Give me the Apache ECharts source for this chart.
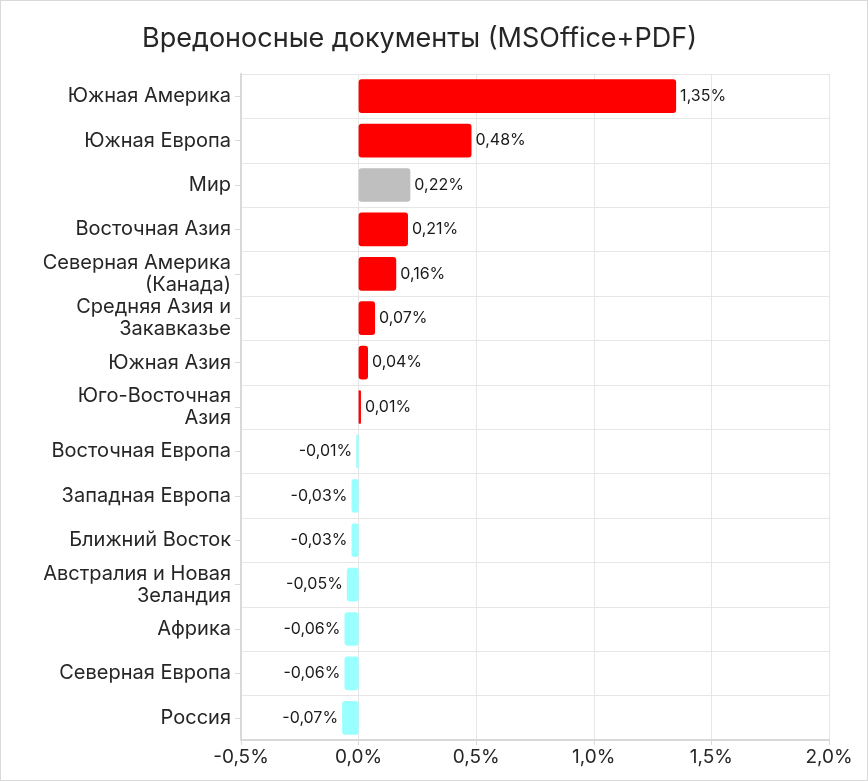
<!DOCTYPE html>
<html>
<head>
<meta charset="utf-8">
<script src="https://cdn.jsdelivr.net/npm/echarts@6/dist/echarts.min.js"></script>
<style>
  html, body { margin: 0; padding: 0; background: #fff; }
  #chart { width: 866px; height: 779px; border: 1px solid #d9d9d9; }
</style>
</head>
<body>
<div id="chart"></div>
<script>
const regions = [
  'Южная Америка',
  'Южная Европа',
  'Мир',
  'Восточная Азия',
  'Северная Америка\n(Канада)',
  'Средняя Азия и\nЗакавказье',
  'Южная Азия',
  'Юго-Восточная\nАзия',
  'Восточная Европа',
  'Западная Европа',
  'Ближний Восток',
  'Австралия и Новая\nЗеландия',
  'Африка',
  'Северная Европа',
  'Россия',
];
const changes = [1.35, 0.48, 0.22, 0.21, 0.16, 0.07, 0.04, 0.01, -0.01, -0.03, -0.03, -0.05, -0.06, -0.06, -0.07];
const worldName = 'Мир';

const font = 'Inter, "Noto Sans", sans-serif';

const chart = echarts.init(document.getElementById('chart'));

const barData = changes.map((v, i) => {
  let color = v >= 0 ? '#ff0000' : '#99ffff';
  if (regions[i] === worldName) color = '#bfbfbf';
  return {
    value: v,
    itemStyle: { color: color, borderRadius: 3 },
    label: { position: v >= 0 ? 'right' : 'left' },
  };
});

const option = {
  animation: false,
  title: {
    text: 'Вредоносные документы (MSOffice+PDF)',
    left: 136,
    top: 19,
    textStyle: { fontFamily: font, fontSize: 27, fontWeight: 'normal', color: '#262626' },
  },
  grid: { left: 240, right: 38, top: 73, bottom: 40, containLabel: false },
  xAxis: {
    type: 'value',
    min: -0.5,
    max: 2.0,
    interval: 0.5,
    axisLine: { show: true, lineStyle: { color: '#d9d9d9', width: 2 } },
    axisTick: { show: true, length: 5, lineStyle: { color: '#d9d9d9' } },
    splitLine: { show: true, lineStyle: { color: '#e6e6e6' } },
    axisLabel: {
      fontFamily: font, fontSize: 19, color: '#262626', margin: 8,
      formatter: v => v.toFixed(1).replace('.', ',') + '%',
    },
  },
  yAxis: {
    type: 'category',
    inverse: true,
    data: regions,
    axisLine: { show: true, onZero: false, lineStyle: { color: '#d9d9d9', width: 2 } },
    axisTick: { show: true, length: 6, alignWithLabel: true, lineStyle: { color: '#d9d9d9' } },
    splitLine: { show: true, lineStyle: { color: '#e6e6e6' } },
    axisLabel: {
      fontFamily: font, fontSize: 20, color: '#262626', margin: 10, lineHeight: 22,
      align: 'right',
    },
  },
  series: [{
    type: 'bar',
    data: barData,
    barCategoryGap: '24%',
    label: {
      show: true,
      fontFamily: font,
      fontSize: 16,
      color: '#1a1a1a',
      distance: 4,
      formatter: p => p.value.toFixed(2).replace('.', ',') + '%',
    },
  }],
};

chart.setOption(option);
</script>
</body>
</html>
